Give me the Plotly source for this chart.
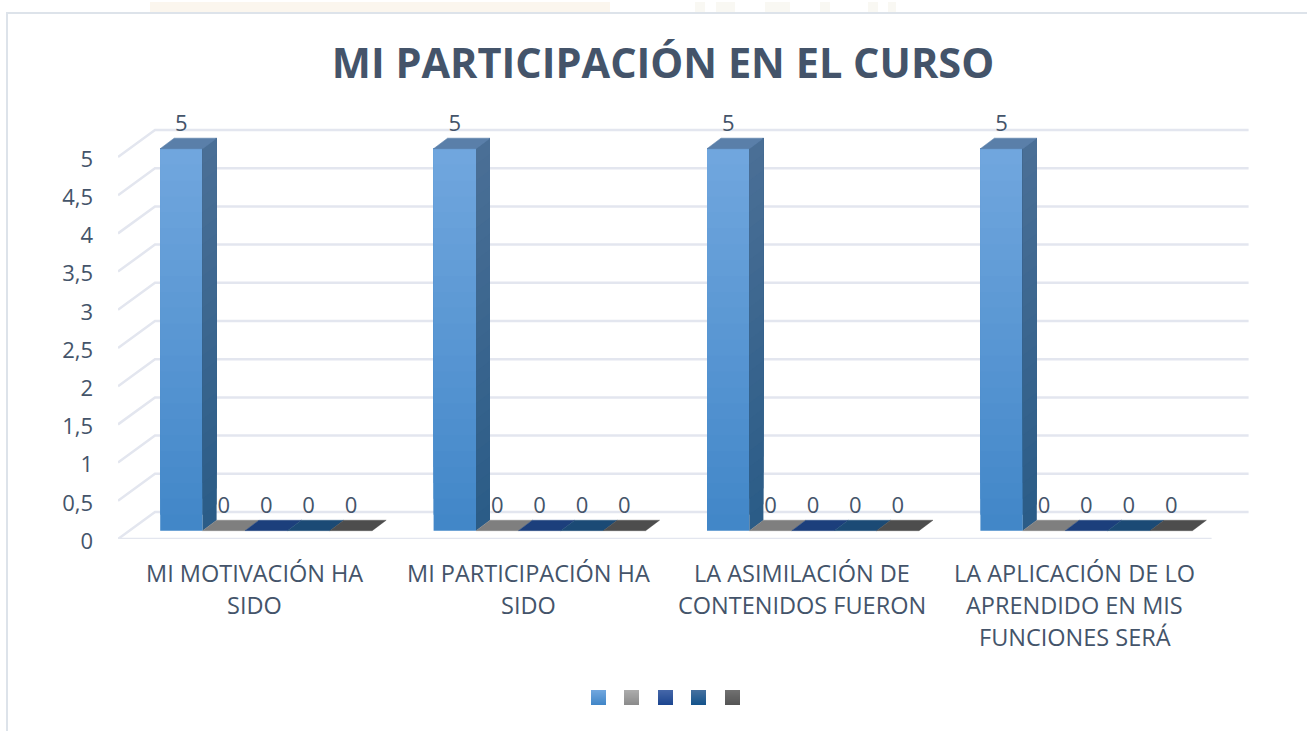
import plotly.graph_objects as go

TITLE = 'MI PARTICIPACIÓN EN EL CURSO'
CATEGORIES = [
    ['MI MOTIVACIÓN HA', 'SIDO'],
    ['MI PARTICIPACIÓN HA', 'SIDO'],
    ['LA ASIMILACIÓN DE', 'CONTENIDOS FUERON'],
    ['LA APLICACIÓN DE LO', 'APRENDIDO EN MIS', 'FUNCIONES SERÁ'],
]
SERIES_1 = [5, 5, 5, 5]
SERIES_2 = [0, 0, 0, 0]
SERIES_3 = [0, 0, 0, 0]
SERIES_4 = [0, 0, 0, 0]
SERIES_5 = [0, 0, 0, 0]
Y_TICKS = [0, 0.5, 1, 1.5, 2, 2.5, 3, 3.5, 4, 4.5, 5]
Y_LABELS = ['0', '0,5', '1', '1,5', '2', '2,5', '3', '3,5', '4', '4,5', '5']

WIDTH, HEIGHT = 1307, 731
LEFT, RIGHT, TOP, BOTTOM = 118, 1260, 100, 539
PX_X = 273.4
PX_Y = 76.4

TEXT = '#44546a'
GRID = '#e3e6ef'
FRAME = '#dde3ea'
FONT = 'Open Sans'

FACE_COLORS = [
    ('#70a6de', '#4287c8'),
    ('#ababab', '#8c8c8c'),
    ('#4466a8', '#1d4690'),
    ('#44709f', '#15548c'),
    ('#707070', '#555555'),
]
FLOOR_COLORS = ['#7f7f7f', '#1c3f7c', '#1b4a75', '#4d4d4d']
SIDE_TOP, SIDE_BOTTOM = '#4a6f96', '#2b5c87'
TOP_FACE = '#5a7fa9'

BAR_W = 42.4 / PX_X
BAR_DX, BAR_DY = 14 / PX_X, 10.5 / PX_Y
FRONT_DX, FRONT_DY = 11.5 / PX_X, 8.3 / PX_Y
WALL_DX, WALL_DY = 37 / PX_X, 27 / PX_Y
LABEL_GAP = 0.31
STRIPS = 24


def mix(c1, c2, t):
    a = [int(c1[i:i + 2], 16) for i in (1, 3, 5)]
    b = [int(c2[i:i + 2], 16) for i in (1, 3, 5)]
    return 'rgb(%d,%d,%d)' % tuple(round(p + (q - p) * t) for p, q in zip(a, b))


def paper_x(px):
    return (px - LEFT) / (RIGHT - LEFT)


def paper_y(py):
    return (BOTTOM - py) / (BOTTOM - TOP)


def bar_left(cat, s):
    return cat + FRONT_DX + (s - 2.5) * BAR_W


fig = go.Figure()
series = [SERIES_1, SERIES_2, SERIES_3, SERIES_4, SERIES_5]

# front faces: every strip runs up to the bar top and the next one paints over it,
# so no seams show between them
for s, values in enumerate(series):
    xs, bases, heights, colors = [], [], [], []
    for cat, v in enumerate(values):
        for k in range(STRIPS):
            xs.append(bar_left(cat, s) + BAR_W / 2)
            bases.append(FRONT_DY + v * k / STRIPS)
            heights.append(v - v * k / STRIPS)
            colors.append(mix(FACE_COLORS[s][1], FACE_COLORS[s][0], k / (STRIPS - 1)))
    fig.add_trace(go.Bar(x=xs, y=heights, base=bases, width=BAR_W,
                         marker=dict(color=colors, line_width=0), hoverinfo='skip'))

# side faces
for k in range(STRIPS):
    xs, ys = [], []
    for cat, v in enumerate(SERIES_1):
        x1 = bar_left(cat, 0) + BAR_W
        y0 = FRONT_DY + v * k / STRIPS
        y1 = FRONT_DY + v
        xs += [x1, x1 + BAR_DX, x1 + BAR_DX, x1, x1, None]
        ys += [y0, y0 + BAR_DY, y1 + BAR_DY, y1, y0, None]
    col = mix(SIDE_BOTTOM, SIDE_TOP, k / (STRIPS - 1))
    fig.add_trace(go.Scatter(x=xs, y=ys, mode='lines', fill='toself', fillcolor=col,
                             line=dict(color=col, width=0), hoverinfo='skip'))

# top faces of the tall bars and the flat zero bars
xs, ys = [], []
for cat, v in enumerate(SERIES_1):
    x0 = bar_left(cat, 0)
    y0 = FRONT_DY + v
    xs += [x0, x0 + BAR_W, x0 + BAR_W + BAR_DX, x0 + BAR_DX, x0, None]
    ys += [y0, y0, y0 + BAR_DY, y0 + BAR_DY, y0, None]
fig.add_trace(go.Scatter(x=xs, y=ys, mode='lines', fill='toself', fillcolor=TOP_FACE,
                         line=dict(color=TOP_FACE, width=0.6), hoverinfo='skip'))

for s, values in enumerate(series[1:], start=1):
    xs, ys = [], []
    for cat, v in enumerate(values):
        x0 = bar_left(cat, s)
        y0 = FRONT_DY + v
        xs += [x0, x0 + BAR_W, x0 + BAR_W + BAR_DX, x0 + BAR_DX, x0, None]
        ys += [y0, y0, y0 + BAR_DY, y0 + BAR_DY, y0, None]
    fig.add_trace(go.Scatter(x=xs, y=ys, mode='lines', fill='toself',
                             fillcolor=FLOOR_COLORS[s - 1],
                             line=dict(color=FLOOR_COLORS[s - 1], width=0.4), hoverinfo='skip'))

# value labels
xs, ys, texts = [], [], []
for s, values in enumerate(series):
    for cat, v in enumerate(values):
        xs.append(bar_left(cat, s) + BAR_W / 2)
        ys.append(FRONT_DY + v + LABEL_GAP)
        texts.append(str(v))
fig.add_trace(go.Scatter(x=xs, y=ys, text=texts, mode='text', textposition='middle center',
                         textfont=dict(family=FONT, size=22, color=TEXT), hoverinfo='skip'))

shapes = []
x_start, x_end = -0.5, len(CATEGORIES) - 0.5

# walls: diagonal on the left, then the back line
for tick in Y_TICKS:
    shapes.append(dict(type='path', layer='below', line=dict(color=GRID, width=2.5),
                       path='M %f %f L %f %f L %f %f' % (
                           x_start, tick, x_start + WALL_DX, tick + WALL_DY,
                           x_end + WALL_DX, tick + WALL_DY)))
shapes.append(dict(type='line', layer='below', line=dict(color=GRID, width=2.5),
                   x0=x_start, x1=x_end, y0=0, y1=0))

# washed out picture behind the chart, only its lower edge is visible
for px0, px1, col in [(150, 610, '#fbf6ee'), (695, 705, '#f9f8f3'), (716, 735, '#f9f8f3'),
                      (765, 790, '#f9f8f3'), (820, 830, '#f9f8f3'), (868, 878, '#f9f8f3'),
                      (888, 896, '#f9f8f3')]:
    shapes.append(dict(type='rect', layer='below', xref='paper', yref='paper', line_width=0,
                       fillcolor=col, x0=paper_x(px0), x1=paper_x(px1),
                       y0=paper_y(12), y1=paper_y(2)))

# frame of the chart
shapes.append(dict(type='line', layer='below', xref='paper', yref='paper',
                   line=dict(color=FRAME, width=2), x0=paper_x(6), x1=paper_x(1307),
                   y0=paper_y(13), y1=paper_y(13)))
shapes.append(dict(type='line', layer='below', xref='paper', yref='paper',
                   line=dict(color=FRAME, width=2), x0=paper_x(7), x1=paper_x(7),
                   y0=paper_y(13), y1=paper_y(731)))

# legend squares, the series have no names
for s, px in enumerate([591, 624, 658, 691, 725]):
    for k in range(15):
        shapes.append(dict(type='rect', xref='paper', yref='paper', line_width=0,
                           fillcolor=mix(FACE_COLORS[s][0], FACE_COLORS[s][1], k / 14),
                           x0=paper_x(px), x1=paper_x(px + 15),
                           y0=paper_y(690 + k), y1=paper_y(691 + k)))

# category labels, one annotation per line for the wide line spacing
annotations = []
for cat, lines in enumerate(CATEGORIES):
    for i, line in enumerate(lines):
        annotations.append(dict(x=cat, xref='x', y=0, yref='paper', yanchor='middle',
                                yshift=-(34 + 32 * i), text=line, showarrow=False,
                                font=dict(family=FONT, size=23.5, color=TEXT)))

fig.update_layout(
    width=WIDTH, height=HEIGHT,
    margin=dict(l=LEFT, r=WIDTH - RIGHT, t=TOP, b=HEIGHT - BOTTOM, autoexpand=False),
    paper_bgcolor='white', plot_bgcolor='rgba(0,0,0,0)',
    barmode='overlay', showlegend=False, hovermode=False,
    title=dict(text='<b>%s</b>' % TITLE, x=663 / WIDTH, xref='container', xanchor='center',
               y=1 - 63 / HEIGHT, yref='container', yanchor='middle',
               font=dict(family=FONT, size=41.5, color=TEXT)),
    xaxis=dict(range=[x_start, x_start + (RIGHT - LEFT) / PX_X], showgrid=False, zeroline=False,
               showticklabels=False, ticks=''),
    yaxis=dict(range=[0, (BOTTOM - TOP) / PX_Y], showgrid=False, zeroline=False,
               tickmode='array', tickvals=Y_TICKS, ticktext=Y_LABELS, ticks='',
               ticklabelstandoff=24, ticklabelshift=2,
               tickfont=dict(family=FONT, size=22, color=TEXT)),
    shapes=shapes, annotations=annotations,
)

# the page's default body margin would push the chart 8px off
fig.write_html('out.html', config={'displayModeBar': False},
               post_script="document.body.style.margin='0';")
